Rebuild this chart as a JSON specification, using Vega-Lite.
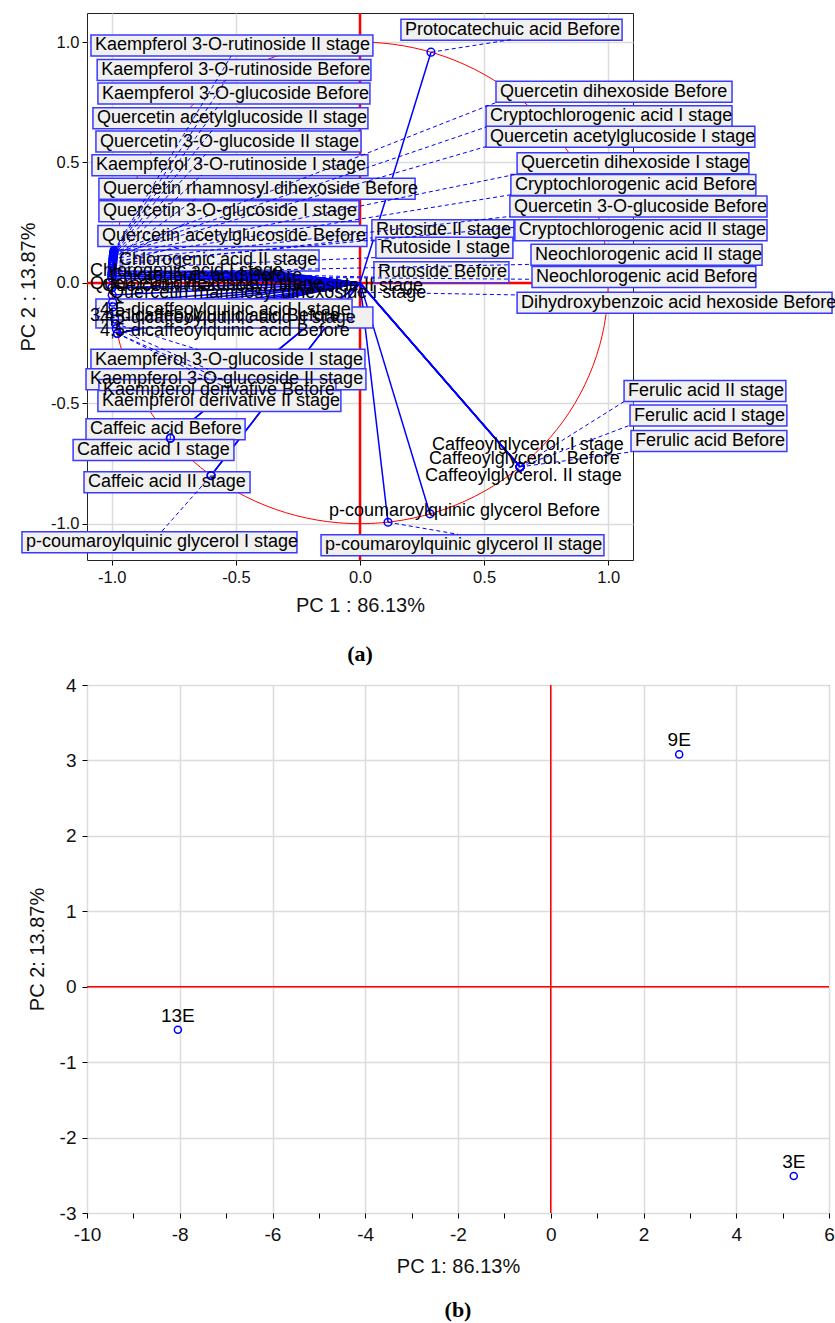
{
  "$schema": "https://vega.github.io/schema/vega-lite/v6.json",
  "padding": {"left": 18, "top": 11, "right": 0, "bottom": 0},
  "background": "white",
  "spacing": 10,
  "config": {
    "view": {"stroke": "#222222", "strokeWidth": 1},
    "axis": {
      "domain": false,
      "tickColor": "#000000",
      "tickSize": 5,
      "labelFont": "Liberation Sans",
      "labelColor": "#111111",
      "titleFont": "Liberation Sans",
      "titleFontWeight": "normal",
      "titleColor": "#111111",
      "gridColor": "#dcdcdc",
      "gridWidth": 1.5,
      "labelOverlap": false,
      "labelFlush": false
    }
  },
  "datasets": {
    "load": [
      {"n": "Kaempferol 3-O-rutinoside II stage", "pc1": -0.9908, "pc2": 0.135, "lx": -1.084, "rx": 0.052, "ly": 0.986, "ex": -0.52, "ey": 0.941},
      {"n": "Kaempferol 3-O-rutinoside Before", "pc1": -0.9915, "pc2": 0.13, "lx": -1.059, "rx": 0.044, "ly": 0.884, "ex": -0.54, "ey": 0.843},
      {"n": "Kaempferol 3-O-glucoside Before", "pc1": -0.9922, "pc2": 0.125, "lx": -1.056, "rx": 0.04, "ly": 0.786, "ex": -0.564, "ey": 0.745},
      {"n": "Quercetin acetylglucoside II stage", "pc1": -0.9928, "pc2": 0.12, "lx": -1.076, "rx": 0.032, "ly": 0.684, "ex": -0.588, "ey": 0.643},
      {"n": "Quercetin 3-O-glucoside II stage", "pc1": -0.9934, "pc2": 0.115, "lx": -1.064, "rx": 0.004, "ly": 0.587, "ex": -0.612, "ey": 0.545},
      {"n": "Kaempferol 3-O-rutinoside I stage", "pc1": -0.9939, "pc2": 0.11, "lx": -1.08, "rx": 0.032, "ly": 0.489, "ex": -0.637, "ey": 0.448},
      {"n": "Quercetin rhamnosyl dihexoside Before", "pc1": -0.995, "pc2": 0.1, "lx": -1.052, "rx": 0.222, "ly": 0.391, "ex": -0.661, "ey": 0.35},
      {"n": "Quercetin 3-O-glucoside I stage", "pc1": -0.9959, "pc2": 0.09, "lx": -1.052, "rx": -0.004, "ly": 0.297, "ex": -0.693, "ey": 0.253},
      {"n": "Quercetin acetylglucoside Before", "pc1": -0.9968, "pc2": 0.08, "lx": -1.056, "rx": 0.028, "ly": 0.195, "ex": -0.733, "ey": 0.15},
      {"n": "Chlorogenic acid II stage", "pc1": -0.9975, "pc2": 0.07, "lx": -0.987, "rx": -0.165, "ly": 0.093, "ex": -0.987, "ey": 0.073},
      {"n": "4,5-dicaffeoylquinic acid II stage", "pc1": -0.9928, "pc2": -0.12, "lx": -1.064, "rx": 0.052, "ly": -0.144, "ex": -1.064, "ey": -0.144},
      {"n": "4,5-dicaffeoylquinic acid I stage", "pc1": -0.9968, "pc2": -0.08, "lx": -1.064, "rx": -0.032, "ly": -0.111, "ex": -1.064, "ey": -0.111},
      {"n": "Kaempferol 3-O-glucoside I stage", "pc1": -0.9854, "pc2": -0.17, "lx": -1.084, "rx": 0.02, "ly": -0.319, "ex": -0.653, "ey": -0.277},
      {"n": "Kaempferol 3-O-glucoside II stage", "pc1": -0.9818, "pc2": -0.19, "lx": -1.104, "rx": 0.024, "ly": -0.4, "ex": -0.612, "ey": -0.359},
      {"n": "Kaempferol derivative Before", "pc1": -0.9777, "pc2": -0.21, "lx": -1.052, "rx": -0.097, "ly": -0.445, "ex": -0.552, "ey": -0.404},
      {"n": "Kaempferol derivative II stage", "pc1": -0.9777, "pc2": -0.21, "lx": -1.056, "rx": -0.077, "ly": -0.49, "ex": -0.512, "ey": -0.449},
      {"n": "Caffeic acid Before", "pc1": -0.764, "pc2": -0.645, "lx": -1.104, "rx": -0.463, "ly": -0.608, "ex": -0.766, "ey": -0.608},
      {"n": "Caffeic acid I stage", "pc1": -0.764, "pc2": -0.645, "lx": -1.156, "rx": -0.508, "ly": -0.694, "ex": -0.766, "ey": -0.653},
      {"n": "Caffeic acid II stage", "pc1": -0.6, "pc2": -0.8, "lx": -1.112, "rx": -0.443, "ly": -0.828, "ex": -0.6, "ey": -0.828},
      {"n": "p-coumaroylquinic glycerol I stage", "pc1": -0.6, "pc2": -0.8, "lx": -1.362, "rx": -0.254, "ly": -1.077, "ex": -0.802, "ey": -1.036},
      {"n": "Protocatechuic acid Before", "pc1": 0.286, "pc2": 0.958, "lx": 0.165, "rx": 1.056, "ly": 1.051, "ex": 0.608, "ey": 1.01},
      {"n": "Quercetin dihexoside  Before", "pc1": -0.9922, "pc2": 0.125, "lx": 0.548, "rx": 1.499, "ly": 0.794, "ex": 0.548, "ey": 0.749},
      {"n": "Cryptochlorogenic acid I stage", "pc1": -0.9928, "pc2": 0.12, "lx": 0.508, "rx": 1.499, "ly": 0.692, "ex": 0.508, "ey": 0.647},
      {"n": "Quercetin acetylglucoside I stage", "pc1": -0.9934, "pc2": 0.115, "lx": 0.508, "rx": 1.591, "ly": 0.607, "ex": 0.508, "ey": 0.566},
      {"n": "Quercetin dihexoside I stage", "pc1": -0.9939, "pc2": 0.11, "lx": 0.633, "rx": 1.567, "ly": 0.497, "ex": 0.633, "ey": 0.452},
      {"n": "Cryptochlorogenic acid Before", "pc1": -0.995, "pc2": 0.1, "lx": 0.608, "rx": 1.595, "ly": 0.407, "ex": 0.608, "ey": 0.366},
      {"n": "Quercetin 3-O-glucoside Before", "pc1": -0.9959, "pc2": 0.09, "lx": 0.604, "rx": 1.64, "ly": 0.317, "ex": 0.604, "ey": 0.276},
      {"n": "Cryptochlorogenic acid II stage", "pc1": -0.9968, "pc2": 0.08, "lx": 0.624, "rx": 1.64, "ly": 0.219, "ex": 0.624, "ey": 0.231},
      {"n": "Neochlorogenic acid II stage", "pc1": -0.9992, "pc2": 0.04, "lx": 0.689, "rx": 1.62, "ly": 0.117, "ex": 0.689, "ey": 0.077},
      {"n": "Neochlorogenic acid Before", "pc1": -0.9995, "pc2": 0.03, "lx": 0.693, "rx": 1.595, "ly": 0.024, "ex": 0.693, "ey": 0.015},
      {"n": "Dihydroxybenzoic acid hexoside Before", "pc1": -0.9998, "pc2": -0.02, "lx": 0.633, "rx": 1.902, "ly": -0.082, "ex": 0.633, "ey": -0.05},
      {"n": "Rutoside II stage", "pc1": -0.9975, "pc2": 0.07, "lx": 0.048, "rx": 0.62, "ly": 0.219, "ex": 0.048, "ey": 0.187},
      {"n": "Rutoside I stage", "pc1": -0.9982, "pc2": 0.06, "lx": 0.064, "rx": 0.616, "ly": 0.146, "ex": 0.064, "ey": 0.105},
      {"n": "Rutoside Before", "pc1": -0.9987, "pc2": 0.05, "lx": 0.056, "rx": 0.6, "ly": 0.044, "ex": 0.056, "ey": 0.024},
      {"n": "Ferulic acid II stage", "pc1": 0.645, "pc2": -0.764, "lx": 1.064, "rx": 1.716, "ly": -0.449, "ex": 1.064, "ey": -0.493},
      {"n": "Ferulic acid I stage", "pc1": 0.645, "pc2": -0.764, "lx": 1.088, "rx": 1.72, "ly": -0.551, "ex": 1.088, "ey": -0.591},
      {"n": "Ferulic acid Before", "pc1": 0.645, "pc2": -0.764, "lx": 1.092, "rx": 1.72, "ly": -0.657, "ex": 1.092, "ey": -0.702},
      {"n": "p-coumaroylquinic glycerol II stage", "pc1": 0.113, "pc2": -0.994, "lx": -0.157, "rx": 0.983, "ly": -1.089, "ex": 0.395, "ey": -1.044},
      {"n": "Caffeoylglycerol. I stage", "pc1": 0.645, "pc2": -0.764, "lx": 0.274, "ly": -0.674},
      {"n": "Caffeoylglycerol. Before", "pc1": 0.645, "pc2": -0.764, "lx": 0.262, "ly": -0.731},
      {"n": "Caffeoylglycerol. II stage", "pc1": 0.645, "pc2": -0.764, "lx": 0.246, "ly": -0.804},
      {"n": "p-coumaroylquinic glycerol Before", "pc1": 0.282, "pc2": -0.959, "lx": -0.141, "ly": -0.947},
      {"n": "Chlorogenic acid I stage", "pc1": -0.9992, "pc2": 0.04, "lx": -1.104, "ly": 0.048},
      {"n": "Chlorogenic acid Before", "pc1": -0.9995, "pc2": 0.03, "lx": -1.023, "ly": 0.028},
      {"n": "Quercetin dihexoside II stage", "pc1": -0.9998, "pc2": 0.02, "lx": -1.104, "ly": -0.005},
      {"n": "Quercetin rhamnosyl dihexoside II stage", "pc1": -0.9998, "pc2": -0.02, "lx": -1.056, "ly": -0.013},
      {"n": "Quercetin rhamnosyl dihexoside I stage", "pc1": -0.9987, "pc2": -0.05, "lx": -1.023, "ly": -0.041},
      {"n": "3,4-dicaffeoylquinic acid Before", "pc1": -0.995, "pc2": -0.1, "lx": -1.104, "ly": -0.139},
      {"n": "4,5-dicaffeoylquinic acid Before", "pc1": -0.9887, "pc2": -0.15, "lx": -1.064, "ly": -0.2}
    ],
    "circle": [
      {"a": 0, "cx": 1, "cy": 0}, {"a": 10, "cx": 0.9848, "cy": 0.1736}, {"a": 20, "cx": 0.9397, "cy": 0.342},
      {"a": 30, "cx": 0.866, "cy": 0.5}, {"a": 40, "cx": 0.766, "cy": 0.6428}, {"a": 50, "cx": 0.6428, "cy": 0.766},
      {"a": 60, "cx": 0.5, "cy": 0.866}, {"a": 70, "cx": 0.342, "cy": 0.9397}, {"a": 80, "cx": 0.1736, "cy": 0.9848},
      {"a": 90, "cx": 0, "cy": 1}, {"a": 100, "cx": -0.1736, "cy": 0.9848}, {"a": 110, "cx": -0.342, "cy": 0.9397},
      {"a": 120, "cx": -0.5, "cy": 0.866}, {"a": 130, "cx": -0.6428, "cy": 0.766}, {"a": 140, "cx": -0.766, "cy": 0.6428},
      {"a": 150, "cx": -0.866, "cy": 0.5}, {"a": 160, "cx": -0.9397, "cy": 0.342}, {"a": 170, "cx": -0.9848, "cy": 0.1736},
      {"a": 180, "cx": -1, "cy": 0}, {"a": 190, "cx": -0.9848, "cy": -0.1736}, {"a": 200, "cx": -0.9397, "cy": -0.342},
      {"a": 210, "cx": -0.866, "cy": -0.5}, {"a": 220, "cx": -0.766, "cy": -0.6428}, {"a": 230, "cx": -0.6428, "cy": -0.766},
      {"a": 240, "cx": -0.5, "cy": -0.866}, {"a": 250, "cx": -0.342, "cy": -0.9397}, {"a": 260, "cx": -0.1736, "cy": -0.9848},
      {"a": 270, "cx": 0, "cy": -1}, {"a": 280, "cx": 0.1736, "cy": -0.9848}, {"a": 290, "cx": 0.342, "cy": -0.9397},
      {"a": 300, "cx": 0.5, "cy": -0.866}, {"a": 310, "cx": 0.6428, "cy": -0.766}, {"a": 320, "cx": 0.766, "cy": -0.6428},
      {"a": 330, "cx": 0.866, "cy": -0.5}, {"a": 340, "cx": 0.9397, "cy": -0.342}, {"a": 350, "cx": 0.9848, "cy": -0.1736}
    ],
    "scores": [
      {"s": "9E", "pc1": 2.77, "pc2": 3.08},
      {"s": "13E", "pc1": -8.04, "pc2": -0.57},
      {"s": "3E", "pc1": 5.24, "pc2": -2.51}
    ]
  },
  "vconcat": [
    {
      "width": 546,
      "height": 547,
      "title": {"text": "(a)", "orient": "bottom", "font": "Liberation Serif", "fontSize": 22, "fontWeight": "bold", "color": "#000000", "offset": 28, "anchor": "middle"},
      "layer": [
        {
          "data": {"name": "circle"},
          "mark": {"type": "line", "interpolate": "cardinal-closed", "color": "#ff0000", "strokeWidth": 1},
          "encoding": {
            "x": {"field": "cx", "type": "quantitative", "scale": {"domain": [-1.1, 1.1], "nice": false, "zero": false},
              "axis": {
                "title": "PC 1 : 86.13%",
                "values": [-1, -0.5, 0, 0.5, 1],
                "labelExpr": "replace(format(datum.value, '.1f'), '\u2212', '-')",
                "labelOverlap": false, "labelFlush": false,
                "labelFontSize": 16.5, "labelPadding": 4, "titleFontSize": 20, "titlePadding": 10
              }},
            "y": {"field": "cy", "type": "quantitative", "scale": {"domain": [-1.13, 1.1], "nice": false, "zero": false},
              "axis": {
                "title": "PC 2 : 13.87%",
                "values": [-1, -0.5, 0, 0.5, 1],
                "labelExpr": "replace(format(datum.value, '.1f'), '\u2212', '-')",
                "labelOverlap": false, "labelFlush": false,
                "labelFontSize": 16.5, "labelPadding": 3, "titleFontSize": 20, "titlePadding": 12
              }},
            "order": {"field": "a", "type": "quantitative"}
          }
        },
        {
          "data": {"values": [{"v": 0}]},
          "mark": {"type": "rule", "color": "#ff0000", "strokeWidth": 2.5},
          "encoding": {
            "x": {"field": "v", "type": "quantitative", "scale": {"domain": [-1.1, 1.1], "nice": false, "zero": false}}
          }
        },
        {
          "data": {"values": [{"v": 0}]},
          "mark": {"type": "rule", "color": "#ff0000", "strokeWidth": 2.5},
          "encoding": {
            "y": {"field": "v", "type": "quantitative", "scale": {"domain": [-1.13, 1.1], "nice": false, "zero": false}}
          }
        },
        {
          "data": {"name": "load"},
          "mark": {"type": "rule", "color": "#0000ff", "strokeWidth": 1.5},
          "encoding": {
            "x": {"field": "pc1", "type": "quantitative", "scale": {"domain": [-1.1, 1.1], "nice": false, "zero": false}},
            "y": {"field": "pc2", "type": "quantitative", "scale": {"domain": [-1.13, 1.1], "nice": false, "zero": false}},
            "x2": {"datum": 0},
            "y2": {"datum": 0}
          }
        },
        {
          "data": {"name": "load"},
          "transform": [{"filter": {"field": "rx", "valid": true}}],
          "mark": {"type": "bar", "orient": "horizontal", "size": 21, "fill": "#f0f0f0", "stroke": "#3a3aff", "strokeWidth": 1.5},
          "encoding": {
            "x": {"field": "lx", "type": "quantitative", "scale": {"domain": [-1.1, 1.1], "nice": false, "zero": false}},
            "x2": {"field": "rx"},
            "y": {"field": "ly", "type": "quantitative", "scale": {"domain": [-1.13, 1.1], "nice": false, "zero": false}}
          }
        },
        {
          "data": {"name": "load"},
          "transform": [{"filter": {"field": "ex", "valid": true}}],
          "mark": {"type": "rule", "color": "#0000ff", "strokeWidth": 1, "strokeDash": [4, 3]},
          "encoding": {
            "x": {"field": "pc1", "type": "quantitative", "scale": {"domain": [-1.1, 1.1], "nice": false, "zero": false}},
            "y": {"field": "pc2", "type": "quantitative", "scale": {"domain": [-1.13, 1.1], "nice": false, "zero": false}},
            "x2": {"field": "ex"},
            "y2": {"field": "ey"}
          }
        },
        {
          "data": {"name": "load"},
          "mark": {"type": "point", "shape": "circle", "filled": false, "color": "#0000ff", "size": 60, "strokeWidth": 1.5, "opacity": 1},
          "encoding": {
            "x": {"field": "pc1", "type": "quantitative", "scale": {"domain": [-1.1, 1.1], "nice": false, "zero": false}},
            "y": {"field": "pc2", "type": "quantitative", "scale": {"domain": [-1.13, 1.1], "nice": false, "zero": false}}
          }
        },
        {
          "data": {"name": "load"},
          "mark": {"type": "text", "align": "left", "baseline": "middle", "dx": 4, "font": "Liberation Sans", "fontSize": 18, "color": "#000000"},
          "encoding": {
            "x": {"field": "lx", "type": "quantitative", "scale": {"domain": [-1.1, 1.1], "nice": false, "zero": false}},
            "y": {"field": "ly", "type": "quantitative", "scale": {"domain": [-1.13, 1.1], "nice": false, "zero": false}},
            "text": {"field": "n"}
          }
        }
      ]
    },
    {
      "width": 742,
      "height": 528,
      "title": {"text": "(b)", "orient": "bottom", "font": "Liberation Serif", "fontSize": 22, "fontWeight": "bold", "color": "#000000", "offset": 24, "anchor": "middle"},
      "layer": [
        {
          "data": {"values": [{"v": 0}]},
          "mark": {"type": "rule", "color": "#ff0000", "strokeWidth": 1.5},
          "encoding": {
            "x": {"field": "v", "type": "quantitative", "scale": {"domain": [-10, 6], "nice": false, "zero": false},
              "axis": {
                "title": "PC 1: 86.13%",
                "values": [-10, -9, -8, -7, -6, -5, -4, -3, -2, -1, 0, 1, 2, 3, 4, 5, 6],
                "labelExpr": "datum.value % 2 == 0 ? replace(format(datum.value, 'd'), '\u2212', '-') : ''",
                "gridOpacity": {"condition": {"test": "datum.value % 2 == 0", "value": 1}, "value": 0},
                "labelOverlap": false, "labelFlush": false,
                "labelFontSize": 19, "labelPadding": 7, "titleFontSize": 20, "titlePadding": 12
              }}
          }
        },
        {
          "data": {"values": [{"v": 0}]},
          "mark": {"type": "rule", "color": "#ff0000", "strokeWidth": 1.5},
          "encoding": {
            "y": {"field": "v", "type": "quantitative", "scale": {"domain": [-3, 4], "nice": false, "zero": false},
              "axis": {
                "title": "PC 2: 13.87%",
                "values": [-3, -2.5, -2, -1.5, -1, -0.5, 0, 0.5, 1, 1.5, 2, 2.5, 3, 3.5, 4],
                "labelExpr": "datum.value % 1 == 0 ? replace(format(datum.value, 'd'), '\u2212', '-') : ''",
                "gridOpacity": {"condition": {"test": "datum.value % 1 == 0", "value": 1}, "value": 0},
                "labelOverlap": false, "labelFlush": false,
                "labelFontSize": 19, "labelPadding": 6, "titleFontSize": 20, "titlePadding": 12
              }}
          }
        },
        {
          "data": {"name": "scores"},
          "mark": {"type": "point", "shape": "circle", "filled": false, "color": "#0000ff", "size": 50, "strokeWidth": 1.5, "opacity": 1},
          "encoding": {
            "x": {"field": "pc1", "type": "quantitative", "scale": {"domain": [-10, 6], "nice": false, "zero": false}},
            "y": {"field": "pc2", "type": "quantitative", "scale": {"domain": [-3, 4], "nice": false, "zero": false}}
          }
        },
        {
          "data": {"name": "scores"},
          "mark": {"type": "text", "align": "center", "baseline": "middle", "dy": -14, "font": "Liberation Sans", "fontSize": 19, "color": "#000000"},
          "encoding": {
            "x": {"field": "pc1", "type": "quantitative", "scale": {"domain": [-10, 6], "nice": false, "zero": false}},
            "y": {"field": "pc2", "type": "quantitative", "scale": {"domain": [-3, 4], "nice": false, "zero": false}},
            "text": {"field": "s"}
          }
        }
      ]
    }
  ]
}
